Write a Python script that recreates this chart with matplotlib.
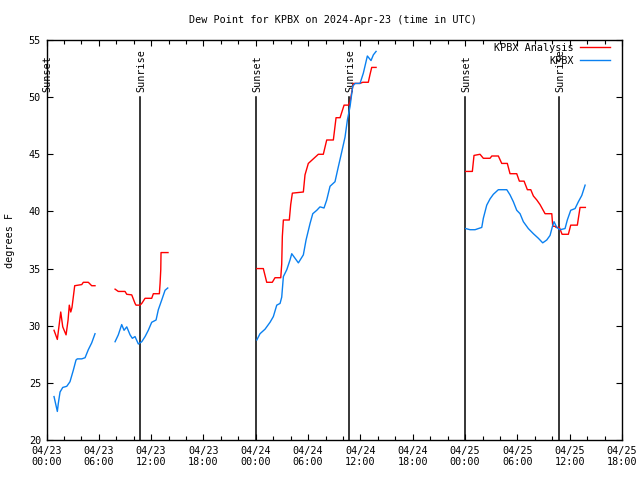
import numpy as np
import matplotlib
matplotlib.use("Agg")
import matplotlib.pyplot as plt
from matplotlib.ticker import MultipleLocator

# hours since 04/23 00:00 UTC
red_seg_t = [
    [0.86, 1.24, 1.63, 1.86, 2.24, 2.47, 2.61, 2.78, 2.92, 3.15, 3.23, 4.04, 4.22, 4.79, 5.18, 5.56],
    [7.86, 8.23, 9.00, 9.20, 9.77, 10.15, 10.26, 10.72, 10.92, 11.30, 12.06, 12.25, 12.94, 13.02, 13.10, 13.13, 13.93],
    [24.11, 24.86, 25.25, 25.89, 26.20, 26.86, 26.97, 27.04, 27.16, 27.84, 28.00, 28.19, 29.45, 29.64, 30.02,
     31.17, 31.74, 32.13, 32.89, 33.20, 33.66, 34.12, 34.61, 34.81, 35.18, 35.95, 36.26, 36.90, 37.10, 37.29, 37.79],
    [48.07, 48.83, 49.02, 49.71, 50.09, 50.86, 51.06, 51.81, 52.20, 52.84, 53.15, 53.92, 54.22, 54.76, 55.14,
     55.53, 55.83, 56.22, 56.59, 57.17, 57.94, 58.05, 58.31, 58.43, 58.81, 59.12, 59.84, 60.11, 60.87, 61.18, 61.79],
]
red_seg_v = [
    [29.6, 28.8, 31.2, 29.9, 29.2, 30.5, 31.8, 31.2, 31.6, 33.0, 33.5, 33.6, 33.8, 33.8, 33.5, 33.5],
    [33.2, 33.0, 33.0, 32.75, 32.7, 31.95, 31.8, 31.8, 31.95, 32.4, 32.4, 32.8, 32.8, 33.7, 34.9, 36.4, 36.4],
    [35.0, 35.0, 33.8, 33.8, 34.2, 34.2, 35.4, 37.8, 39.25, 39.25, 40.6, 41.6, 41.7, 43.2, 44.2,
     45.0, 45.0, 46.25, 46.25, 48.2, 48.2, 49.3, 49.3, 49.6, 51.2, 51.2, 51.3, 51.3, 52.0, 52.6, 52.6],
    [43.5, 43.5, 44.9, 45.0, 44.65, 44.65, 44.85, 44.85, 44.2, 44.2, 43.3, 43.3, 42.65, 42.65, 41.9,
     41.9, 41.35, 41.0, 40.6, 39.8, 39.8, 38.7, 38.7, 38.6, 38.6, 38.0, 38.0, 38.8, 38.8, 40.35, 40.35],
]
blue_seg_t = [
    [0.86, 1.24, 1.35, 1.55, 1.86, 2.32, 2.69, 3.07, 3.38, 3.53, 4.04, 4.42, 4.79, 5.18, 5.56],
    [7.86, 8.23, 8.62, 8.89, 9.20, 9.58, 9.84, 10.15, 10.53, 10.92, 11.30, 11.67, 12.06, 12.56, 12.82, 13.21, 13.59, 13.90],
    [24.11, 24.48, 25.06, 25.63, 26.01, 26.40, 26.78, 26.97, 27.16, 27.55, 27.92, 28.12, 28.88, 29.45, 29.76,
     30.22, 30.53, 30.99, 31.36, 31.82, 32.13, 32.51, 33.08, 33.46, 33.85, 34.23, 34.50, 34.81, 35.11, 35.38,
     35.95, 36.33, 36.79, 37.21, 37.48, 37.79],
    [48.07, 48.57, 49.14, 49.52, 49.91, 50.09, 50.48, 50.86, 51.24, 51.81, 52.78, 53.15, 53.53, 53.92, 54.30,
     54.68, 55.25, 55.83, 56.40, 56.90, 57.36, 57.74, 58.00, 58.20, 58.51, 58.89, 59.46, 59.72, 60.11, 60.61,
     60.99, 61.38, 61.76],
]
blue_seg_v = [
    [23.8, 22.5, 23.2, 24.2, 24.6, 24.7, 25.1, 26.1, 27.0, 27.1, 27.1, 27.2, 27.9, 28.5, 29.3],
    [28.6, 29.2, 30.1, 29.6, 29.9, 29.2, 28.9, 29.05, 28.4, 28.6, 29.05, 29.6, 30.3, 30.5, 31.4, 32.25, 33.1, 33.3],
    [28.75, 29.3, 29.7, 30.3, 30.8, 31.8, 31.95, 32.5, 34.3, 34.9, 35.75, 36.3, 35.5, 36.2, 37.5,
     38.95, 39.8, 40.1, 40.4, 40.3, 41.0, 42.2, 42.6, 43.9, 45.2, 46.5, 48.0, 49.2, 50.95, 51.2,
     51.2, 52.1, 53.6, 53.2, 53.7, 54.0],
    [38.5, 38.4, 38.4, 38.5, 38.6, 39.4, 40.55, 41.1, 41.5, 41.9, 41.9, 41.45, 40.85, 40.1, 39.8,
     39.1, 38.5, 38.05, 37.65, 37.25, 37.5, 37.9, 38.65, 39.1, 38.6, 38.4, 38.5, 39.25, 40.1, 40.25,
     40.85, 41.4, 42.3],
]

sun_times = [0.0, 10.72, 24.0, 34.72, 48.0, 58.72]
sun_labels = ["Sunset", "Sunrise", "Sunset", "Sunrise", "Sunset", "Sunrise"]

tick_hours = [0, 6, 12, 18, 24, 30, 36, 42, 48, 54, 60, 66]
tick_labels = ["04/23\n00:00", "04/23\n06:00", "04/23\n12:00", "04/23\n18:00",
               "04/24\n00:00", "04/24\n06:00", "04/24\n12:00", "04/24\n18:00",
               "04/25\n00:00", "04/25\n06:00", "04/25\n12:00", "04/25\n18:00"]
y_ticks = [20, 25, 30, 35, 40, 45, 50, 55]


def join(segs):
    out = []
    for i, s in enumerate(segs):
        if i:
            out.append(np.nan)
        out.extend(s)
    return np.array(out, dtype=float)


plt.rcParams['font.family'] = ['DejaVu Sans Mono']
fs = 7.3

fig = plt.figure(figsize=(6.4, 4.8), dpi=100)
ax = fig.add_axes([0.0727, 0.0833, 0.8993, 0.8334])

for t, lab in zip(sun_times, sun_labels):
    ax.plot([t, t], [20, 50], color='black', lw=1.1, zorder=2)
    ax.text(t + 0.15, 50.45, lab, rotation=90, ha='center', va='bottom', fontsize=fs, zorder=3)

ax.plot(join(red_seg_t), join(red_seg_v), color='#ff0000', lw=1.0, label='KPBX Analysis', zorder=4)
ax.plot(join(blue_seg_t), join(blue_seg_v), color='#0a80f0', lw=1.0, label='KPBX', zorder=4)

ax.set_xlim(0, 66)
ax.set_ylim(20, 55)
ax.set_xticks(tick_hours)
ax.set_xticklabels(tick_labels, fontsize=fs)
ax.xaxis.set_minor_locator(MultipleLocator(2))
ax.set_yticks(y_ticks)
ax.set_yticklabels([str(v) for v in y_ticks], fontsize=fs)
ax.tick_params(axis='both', which='both', direction='in', top=True, right=True, length=4, width=0.8, pad=4)
ax.tick_params(axis='x', which='minor', length=3)
for sp in ax.spines.values():
    sp.set_linewidth(1.0)

ax.set_ylabel('degrees F', fontsize=fs, labelpad=10)
fig.text(0.52, 0.958, 'Dew Point for KPBX on 2024-Apr-23 (time in UTC)', ha='center', va='center', fontsize=fs)

leg = ax.legend(loc='upper right', bbox_to_anchor=(0.979, 0.993), frameon=False, markerfirst=False,
                fontsize=fs, handlelength=3.0, handletextpad=0.6, labelspacing=0.3,
                borderaxespad=0.0, borderpad=0.0)

fig.savefig('out.png', dpi=100)
